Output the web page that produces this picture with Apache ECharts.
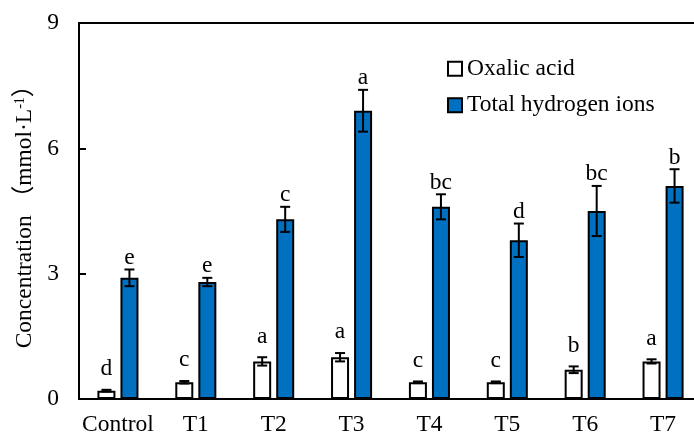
<!DOCTYPE html>
<html>
<head>
<meta charset="utf-8">
<script src="https://cdn.jsdelivr.net/npm/echarts@6/dist/echarts.min.js"></script>
<style>
html,body{margin:0;padding:0;background:#fff;}
#chart{width:694px;height:436px;}
</style>
</head>
<body>
<div id="chart"></div>
<script>
const categories = ['Control', 'T1', 'T2', 'T3', 'T4', 'T5', 'T6', 'T7'];
const oxalic = [0.2, 0.4, 0.9, 1.0, 0.4, 0.4, 0.7, 0.9];
const oxalicErr = [0.02, 0.03, 0.1, 0.1, 0.02, 0.02, 0.08, 0.05];
const hydrogen = [2.9, 2.8, 4.3, 6.9, 4.6, 3.8, 4.5, 5.1];
const hydrogenErr = [0.2, 0.1, 0.3, 0.5, 0.3, 0.4, 0.6, 0.4];
const oxalicLetters = ['d', 'c', 'a', 'a', 'c', 'c', 'b', 'a'];
const hydrogenLetters = ['e', 'e', 'c', 'a', 'bc', 'd', 'bc', 'b'];
const yTicks = [0, 3, 6, 9];

const FONT = "'Liberation Serif', 'Times New Roman', 'Noto Sans CJK SC', serif";
const FS = 23.5;
const BAR_W = 18;
const HALF_SPACING = 11.5;

const errData = [];
categories.forEach((c, i) => {
  errData.push([i, oxalic[i], oxalicErr[i], -1, oxalicLetters[i]]);
  errData.push([i, hydrogen[i], hydrogenErr[i], 1, hydrogenLetters[i]]);
});

function renderErr(params, api) {
  const i = api.value(0), v = api.value(1), e = api.value(2), side = api.value(3);
  const letter = errData[params.dataIndex][4];
  const top = api.coord([i, v + e]);
  const bot = api.coord([i, v - e]);
  const x = top[0] + side * HALF_SPACING;
  const cap = 5;
  const style = { stroke: '#000', lineWidth: 2 };
  const gap = side < 0 ? 9 : 0;
  return {
    type: 'group',
    children: [
      { type: 'line', shape: { x1: x, y1: top[1], x2: x, y2: bot[1] }, style },
      { type: 'line', shape: { x1: x - cap, y1: top[1], x2: x + cap, y2: top[1] }, style },
      { type: 'line', shape: { x1: x - cap, y1: bot[1], x2: x + cap, y2: bot[1] }, style },
      { type: 'text', x: x, y: top[1] - gap,
        style: { text: letter, fill: '#000', font: FS + 'px ' + FONT, textAlign: 'center', textVerticalAlign: 'bottom' } }
    ]
  };
}

const chart = echarts.init(document.getElementById('chart'));
chart.setOption({
  animation: false,
  backgroundColor: '#fff',
  textStyle: { fontFamily: FONT },
  grid: { left: 79, top: 23, width: 623, height: 376, outerBoundsMode: 'none', containLabel: false },
  legend: {
    orient: 'vertical', left: 442, top: 52, itemWidth: 14, itemHeight: 14, itemGap: 13,
    icon: 'rect',
    textStyle: { fontSize: FS, color: '#000', fontFamily: FONT },
    data: ['Oxalic acid', 'Total hydrogen ions']
  },
  xAxis: [{
    type: 'category', data: categories,
    axisLine: { lineStyle: { color: '#000', width: 2 } },
    axisTick: { inside: true, length: 6, lineStyle: { color: '#000', width: 2 } },
    axisLabel: { fontSize: FS, color: '#000', margin: 14, fontFamily: FONT, interval: 0 },
    splitLine: { show: false }
  }, {
    type: 'category', data: categories, position: 'top',
    axisLine: { show: true, lineStyle: { color: '#000', width: 2 } },
    axisTick: { show: false }, axisLabel: { show: false }, splitLine: { show: false }
  }],
  yAxis: {
    type: 'value', min: yTicks[0], max: yTicks[yTicks.length - 1], interval: yTicks[1] - yTicks[0],
    name: '{t|Concentration （mmol·L}{s|-1}{t|）}',
    nameLocation: 'middle', nameRotate: 90, nameGap: 42,
    nameTextStyle: {
      rich: {
        t: { fontSize: FS, color: '#000', fontFamily: FONT },
        s: { fontSize: 14, color: '#000', fontFamily: FONT, verticalAlign: 'top' }
      }
    },
    axisLine: { show: true, lineStyle: { color: '#000', width: 2 } },
    axisTick: { show: true, inside: true, length: 7, lineStyle: { color: '#000', width: 2 } },
    axisLabel: { fontSize: FS, color: '#000', margin: 20, fontFamily: FONT },
    splitLine: { show: false }
  },
  series: [
    {
      name: 'Oxalic acid', type: 'bar', data: oxalic, barWidth: BAR_W, barGap: '28%',
      itemStyle: { color: '#fff', borderColor: '#000', borderWidth: 2 }
    },
    {
      name: 'Total hydrogen ions', type: 'bar', data: hydrogen, barWidth: BAR_W,
      itemStyle: { color: '#0070C0', borderColor: '#000', borderWidth: 2 }
    },
    {
      type: 'custom', renderItem: renderErr, data: errData, z: 5, clip: false,
      encode: { x: 0, y: 1 }, silent: true
    }
  ]
});
</script>
</body>
</html>
